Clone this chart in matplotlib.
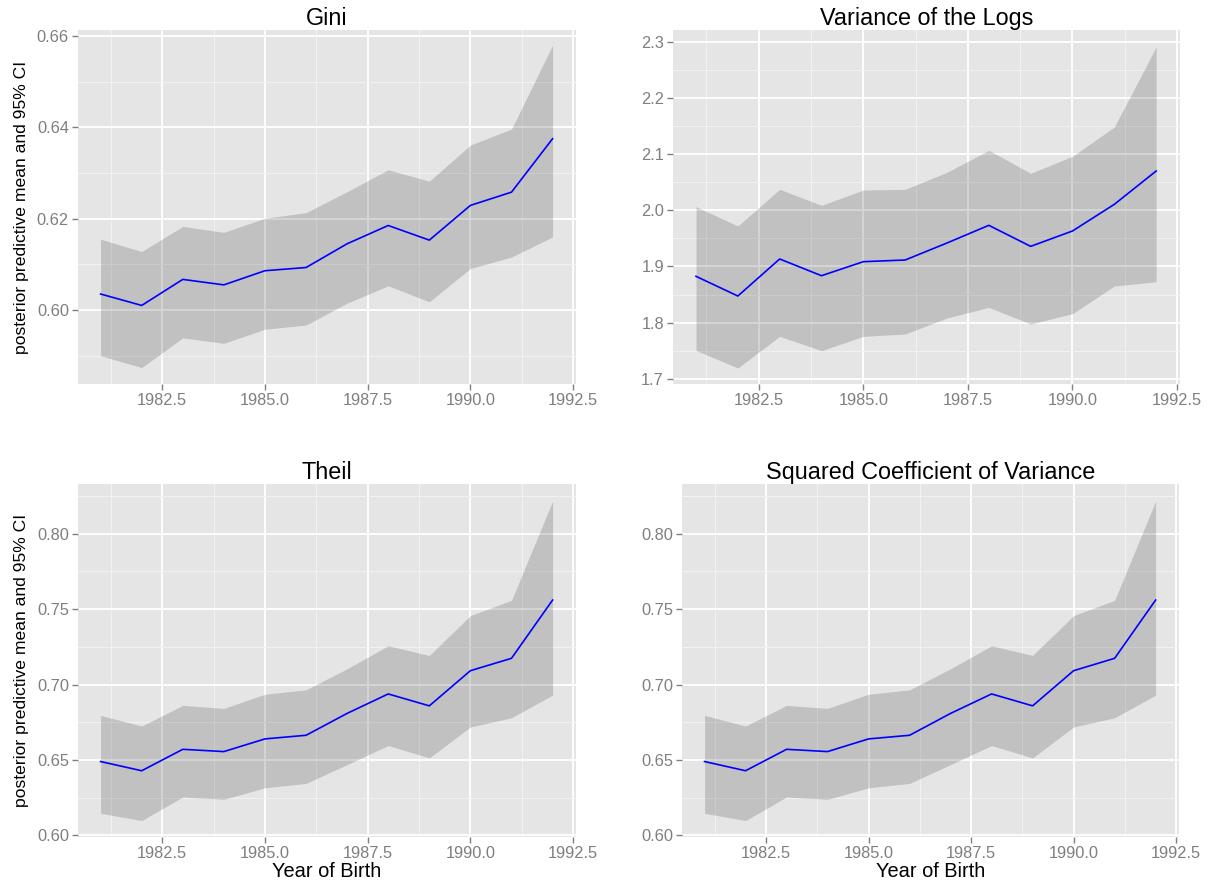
import matplotlib
matplotlib.use("Agg")
import matplotlib.pyplot as plt
from matplotlib.ticker import FixedLocator, FormatStrFormatter

plt.rcParams['font.family'] = ['Liberation Sans', 'DejaVu Sans']

years = [1981, 1982, 1983, 1984, 1985, 1986, 1987, 1988, 1989, 1990, 1991, 1992]

gini_mean = [0.6035, 0.6010, 0.6067, 0.6055, 0.6086, 0.6093, 0.6145, 0.6185, 0.6153, 0.6229, 0.6258, 0.6375]
gini_lower = [0.5900, 0.5874, 0.5939, 0.5927, 0.5958, 0.5967, 0.6015, 0.6053, 0.6018, 0.6091, 0.6116, 0.6160]
gini_upper = [0.6155, 0.6128, 0.6183, 0.6170, 0.6201, 0.6213, 0.6259, 0.6307, 0.6282, 0.6361, 0.6396, 0.6580]

vlog_mean = [1.8824, 1.8473, 1.9133, 1.8835, 1.9085, 1.9115, 1.9418, 1.9733, 1.9358, 1.9632, 2.0107, 2.0701]
vlog_lower = [1.7504, 1.7190, 1.7754, 1.7499, 1.7754, 1.7796, 1.8081, 1.8271, 1.7974, 1.8158, 1.8651, 1.8728]
vlog_upper = [2.0065, 1.9721, 2.0374, 2.0089, 2.0362, 2.0374, 2.0677, 2.1070, 2.0660, 2.0963, 2.1485, 2.2911]

theil_mean = [0.6490, 0.6429, 0.6571, 0.6556, 0.6640, 0.6664, 0.6809, 0.6938, 0.6859, 0.7092, 0.7174, 0.7560]
theil_lower = [0.6147, 0.6099, 0.6255, 0.6240, 0.6316, 0.6345, 0.6470, 0.6596, 0.6514, 0.6719, 0.6780, 0.6930]
theil_upper = [0.6796, 0.6725, 0.6862, 0.6842, 0.6936, 0.6965, 0.7105, 0.7257, 0.7193, 0.7457, 0.7558, 0.8215]

scv_mean = [0.6490, 0.6429, 0.6571, 0.6556, 0.6640, 0.6664, 0.6809, 0.6938, 0.6859, 0.7092, 0.7174, 0.7560]
scv_lower = [0.6147, 0.6099, 0.6255, 0.6240, 0.6316, 0.6345, 0.6470, 0.6596, 0.6514, 0.6719, 0.6780, 0.6930]
scv_upper = [0.6796, 0.6725, 0.6862, 0.6842, 0.6936, 0.6965, 0.7105, 0.7257, 0.7193, 0.7457, 0.7558, 0.8215]

x_major = [1982.5, 1985.0, 1987.5, 1990.0, 1992.5]
x_minor = [1981.25, 1983.75, 1986.25, 1988.75, 1991.25]

W, H = 1222, 882
fig = plt.figure(figsize=(W / 100, H / 100), dpi=100)


def rect(left, top, right, bottom):
    return [left / W, 1 - bottom / H, (right - left) / W, (bottom - top) / H]


panels = [
    dict(title="Gini", mean=gini_mean, lo=gini_lower, hi=gini_upper,
         ylim=(0.5838, 0.6613), major=[0.60, 0.62, 0.64, 0.66],
         minor=[0.59, 0.61, 0.63, 0.65], fmt='%.2f',
         box=rect(78, 30, 576, 384), ylab=True, xlab=False),
    dict(title="Variance of the Logs", mean=vlog_mean, lo=vlog_lower, hi=vlog_upper,
         ylim=(1.6905, 2.3214), major=[1.7, 1.8, 1.9, 2.0, 2.1, 2.2, 2.3],
         minor=[1.75, 1.85, 1.95, 2.05, 2.15, 2.25], fmt='%.1f',
         box=rect(673, 30, 1180, 384), ylab=False, xlab=False),
    dict(title="Theil", mean=theil_mean, lo=theil_lower, hi=theil_upper,
         ylim=(0.599, 0.8329), major=[0.60, 0.65, 0.70, 0.75, 0.80],
         minor=[0.625, 0.675, 0.725, 0.775, 0.825], fmt='%.2f',
         box=rect(78, 484, 576, 837), ylab=True, xlab=True),
    dict(title="Squared Coefficient of Variance", mean=scv_mean, lo=scv_lower, hi=scv_upper,
         ylim=(0.599, 0.8329), major=[0.60, 0.65, 0.70, 0.75, 0.80],
         minor=[0.625, 0.675, 0.725, 0.775, 0.825], fmt='%.2f',
         box=rect(682, 484, 1179, 837), ylab=False, xlab=True),
]

for p in panels:
    ax = fig.add_axes(p['box'])
    ax.set_facecolor('#E5E5E5')
    ax.set_axisbelow(True)
    for s in ax.spines.values():
        s.set_visible(False)

    ax.fill_between(years, p['lo'], p['hi'], color='black', alpha=0.155, lw=0, zorder=2)
    ax.plot(years, p['mean'], color='#0000FF', lw=1.2, zorder=3)

    ax.set_xlim(1980.45, 1992.57)
    ax.set_ylim(*p['ylim'])
    ax.xaxis.set_major_locator(FixedLocator(x_major))
    ax.xaxis.set_minor_locator(FixedLocator(x_minor))
    ax.yaxis.set_major_locator(FixedLocator(p['major']))
    ax.yaxis.set_minor_locator(FixedLocator(p['minor']))
    ax.xaxis.set_major_formatter(FormatStrFormatter('%.1f'))
    ax.yaxis.set_major_formatter(FormatStrFormatter(p['fmt']))

    ax.grid(which='major', color='white', lw=1.3)
    ax.grid(which='minor', color='#F2F2F2', lw=0.7)
    ax.tick_params(which='major', length=4, width=1, color='#7F7F7F',
                   labelcolor='#7F7F7F', labelsize=11.8, pad=2.5)
    ax.tick_params(which='minor', length=0)

    ax.set_title(p['title'], fontsize=16.8, color='black', pad=3)
    if p['ylab']:
        ax.set_ylabel('posterior predictive mean and 95% CI', fontsize=12.6, labelpad=6)
    if p['xlab']:
        ax.set_xlabel('Year of Birth', fontsize=14.4, labelpad=1)

fig.savefig('out.png', dpi=100)
